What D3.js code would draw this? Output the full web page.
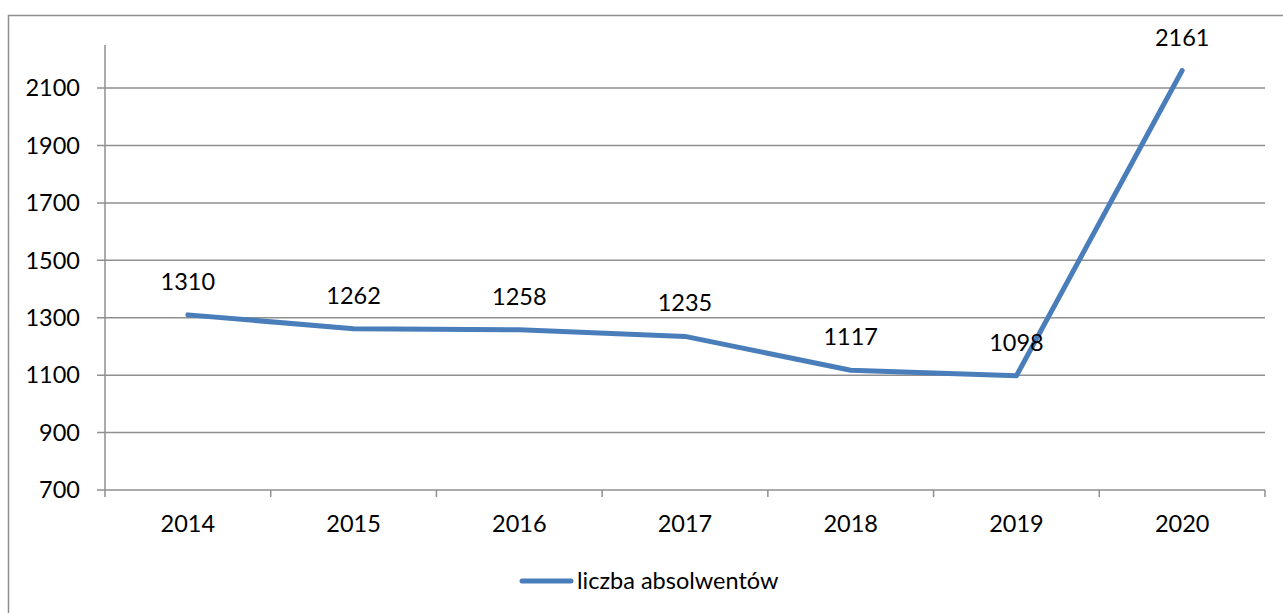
<!DOCTYPE html>
<html><head><meta charset="utf-8">
<script src="https://cdn.jsdelivr.net/npm/d3@7"></script>
<style>body{margin:0;background:#fff}svg{display:block}text{font-family:Lato,"Open Sans",sans-serif;fill:#000}</style>
</head><body>
<svg id="c" width="1283" height="613"></svg>
<script>
const years = ["2014","2015","2016","2017","2018","2019","2020"];
const values = [1310,1262,1258,1235,1117,1098,2161];
const yTicks = [700,900,1100,1300,1500,1700,1900,2100];
const seriesName = "liczba absolwentów";

(function(){
const svg = d3.select("#c");
const W = 1283, H = 613;
const pL = 105, pR = 1265, pT = 45, pB = 490;
const gray = "#8f8f8f", blue = "#4a7ebb";
const fs = 23.5;

// outer border
svg.append("rect").attr("x",8.5).attr("y",15.5).attr("width",W+10).attr("height",H+10)
  .attr("fill","none").attr("stroke",gray).attr("stroke-width",1.5);

const x = d3.scaleBand().domain(years).range([pL,pR]);
const y = d3.scaleLinear().domain([700,2250]).range([pB,pT]);

// gridlines
svg.append("g").selectAll("line").data(yTicks).join("line")
  .attr("x1",97).attr("x2",pR).attr("y1",d=>y(d)).attr("y2",d=>y(d))
  .attr("stroke",gray).attr("stroke-width",1.5);
// y axis
svg.append("line").attr("x1",pL).attr("x2",pL).attr("y1",pT).attr("y2",pB+7)
  .attr("stroke",gray).attr("stroke-width",1.5);
// x category ticks
const bounds = years.map(d=>x(d)).concat([pR]);
svg.append("g").selectAll("line").data(bounds.slice(1)).join("line")
  .attr("x1",d=>d).attr("x2",d=>d).attr("y1",pB).attr("y2",pB+7)
  .attr("stroke",gray).attr("stroke-width",1.5);

// y labels
svg.append("g").selectAll("text").data(yTicks).join("text")
  .attr("x",80).attr("y",d=>y(d)).attr("dy","0.35em").attr("text-anchor","end")
  .style("font-size",fs+"px").text(d=>d);
// x labels
svg.append("g").selectAll("text").data(years).join("text")
  .attr("x",d=>x(d)+x.bandwidth()/2).attr("y",532).attr("text-anchor","middle")
  .style("font-size",fs+"px").text(d=>d);

// line
const line = d3.line().x((d,i)=>x(years[i])+x.bandwidth()/2).y(d=>y(d));
svg.append("path").datum(values).attr("d",line).attr("fill","none")
  .attr("stroke",blue).attr("stroke-width",5).attr("stroke-linecap","round").attr("stroke-linejoin","round");

// data labels
svg.append("g").selectAll("text").data(values).join("text")
  .attr("x",(d,i)=>x(years[i])+x.bandwidth()/2).attr("y",d=>y(d)-25)
  .attr("text-anchor","middle").style("font-size",fs+"px").text(d=>d);

// legend
svg.append("line").attr("x1",522).attr("x2",571).attr("y1",581).attr("y2",581)
  .attr("stroke",blue).attr("stroke-width",5).attr("stroke-linecap","round");
svg.append("text").attr("x",577).attr("y",581).attr("dy","0.35em")
  .style("font-size",fs+"px").text(seriesName);
})();
</script>
</body></html>
